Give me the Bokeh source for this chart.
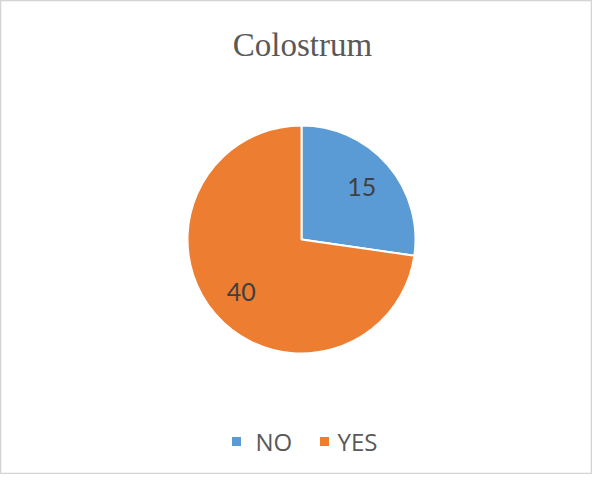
import math
from bokeh.plotting import figure
from bokeh.models import Range1d, ColumnDataSource
from bokeh.core.properties import value
from bokeh.embed import file_html
from bokeh.resources import INLINE

# Data
title_text = "Colostrum"
categories = ["NO", "YES"]
counts = [15, 40]
colors = ["#5B9BD5", "#ED7D31"]

W, H = 592, 474
p = figure(width=W, height=H, output_backend="svg", toolbar_location=None,
           x_range=Range1d(0, W), y_range=Range1d(0, H), min_border=0)
p.axis.visible = False
p.xgrid.visible = False
p.ygrid.visible = False
p.outline_line_color = "#d4d4d4"
p.outline_line_width = 1.5
p.background_fill_color = "white"
p.border_fill_color = "white"

cx, cy, R = 301, 235, 114
total = sum(counts)
starts, ends, lx, ly = [], [], [], []
a = math.pi / 2
for c in counts:
    span = c / total * 2 * math.pi
    starts.append(a)
    ends.append(a - span)
    mid = a - span / 2
    lx.append(cx + 0.7 * R * math.cos(mid))
    ly.append(cy + 0.7 * R * math.sin(mid))
    a -= span

src = ColumnDataSource(dict(cat=categories, val=[str(v) for v in counts], color=colors,
                            start=starts, end=ends, lx=lx, ly=ly))
p.wedge(x=cx, y=cy, radius=R, start_angle="start", end_angle="end", direction="clock",
        fill_color="color", line_color="white", line_width=2, source=src)
p.text(x="lx", y="ly", text="val", source=src, text_font=value("Lato"),
       text_font_size="25px", text_color="#404040", text_align="center",
       text_baseline="middle")

# Title
p.text(x=[302], y=[430], text=[title_text], text_font=value("Liberation Serif"),
       text_font_size="33px", text_color="#595959", text_align="center",
       text_baseline="middle")

# Legend
sq_x = [236, 324]
tx = [255, 337]
p.scatter(x=sq_x, y=[33, 33], marker="square", size=9, fill_color=colors, line_color=None)
p.text(x=tx, y=[33, 33], text=categories, text_font=value("Open Sans"), text_font_size="24px",
       text_color="#595959", text_align="left", text_baseline="middle")

open("out.html", "w").write(file_html(p, INLINE))
